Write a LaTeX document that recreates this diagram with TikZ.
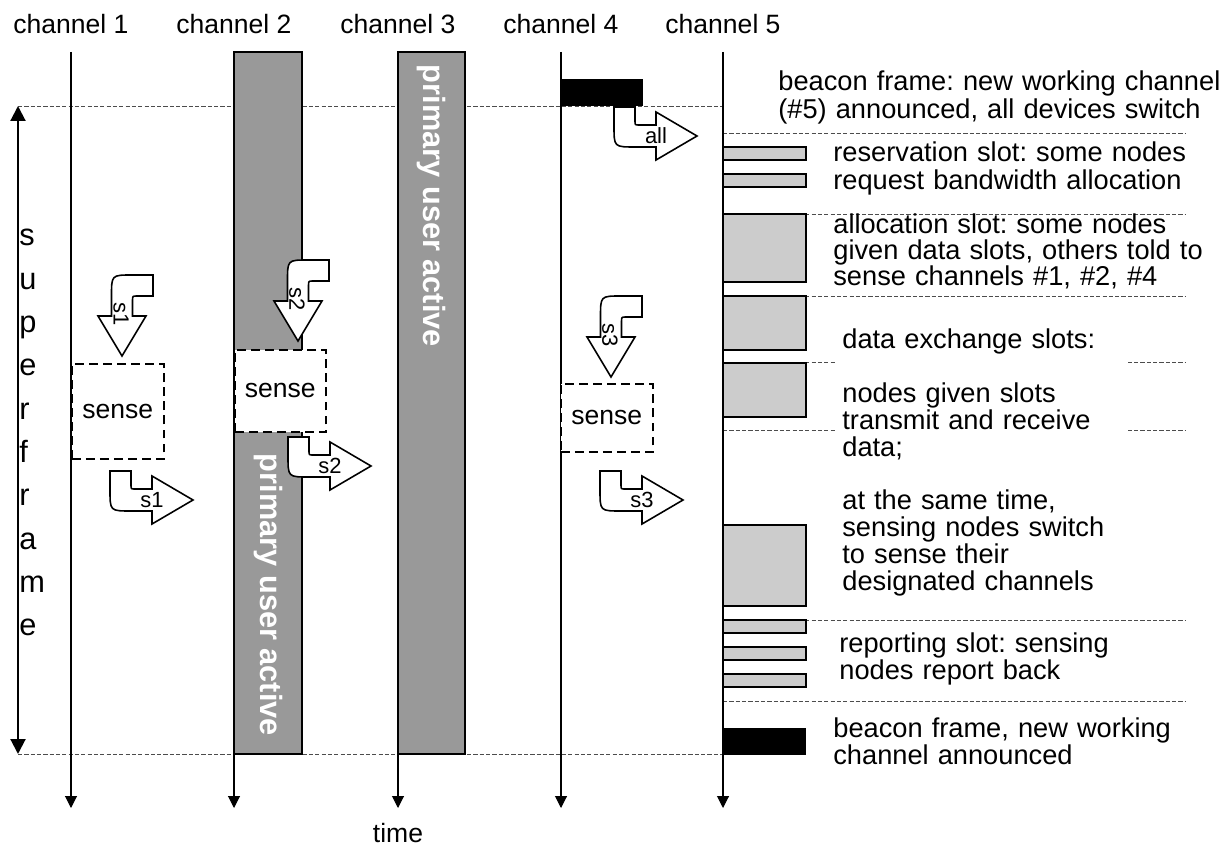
\documentclass[tikz,border=0pt]{standalone}
\usepackage{fontspec}
\setmainfont{Liberation Sans}
\usetikzlibrary{arrows.meta,positioning}

\begin{document}
\begin{tikzpicture}[x=0.02cm, y=-0.02cm,
       >={Triangle[width=6.8pt,length=6.8pt]},
       every node/.style={font=\fontsize{15.1}{17}\selectfont, inner sep=0pt},
       sepline/.style={black!70, line width=0.5pt, dash pattern=on 2.4pt off 1.2pt},
       chline/.style={->, line width=0.6pt},
       sfarrow/.style={line width=1.2pt, arrows={Triangle[width=8.5pt,length=8.5pt]-Triangle[width=8.5pt,length=8.5pt]}},
       sfletter/.style={anchor=base west, font=\fontsize{17.5}{20}\selectfont},
       puband/.style={draw, line width=1pt, fill=black!40},
       pulabel/.style={rotate=-90, text=white, font=\fontsize{17.5}{20}\bfseries\selectfont},
       slot/.style={draw, line width=1.1pt, fill=black!20},
       beacon/.style={fill=black},
       sensebox/.style={draw, fill=white, line width=0.9pt, dash pattern=on 5pt off 3pt,
                        anchor=north west, minimum width=1.84cm},
       blockarrow/.style={draw, fill=white, line width=0.9pt, line join=miter},
       turntag/.style={font=\fontsize{12.5}{14}\selectfont},
       slotnote/.style={align=left, anchor=base west, text width=9cm,
                        font=\fontsize{15.5}{#1}\selectfont\frenchspacing},
       downbend/.pic={
           \path[blockarrow] (31,-81) -- (31,-60) -- (15,-60) .. controls (10.5,-60) .. (10.5,-55)
               -- (10.5,-40) -- (24,-40) -- (0,0) -- (-24,-40) -- (-10.5,-40) -- (-10.5,-60)
               .. controls (-10.5,-81) .. (10,-81) -- cycle;
           \node[turntag, rotate=-90] (-tag) at (-1,-42) {#1};},
       rightbend/.pic={
           \path[blockarrow] (-83,-29) -- (-62,-29) -- (-62,-15) .. controls (-62,-11) .. (-58,-11)
               -- (-41,-11) -- (-41,-24) -- (0,0) -- (-41,24) -- (-41,11) -- (-62,11)
               .. controls (-83,11) .. (-83,-10) -- cycle;
           \node[turntag] (-tag) at (-41,0) {#1};}]

    \useasboundingbox (0,0) rectangle (1223,847);

    %% separators of the superframe
    \coordinate (sftop) at (18,106);
    \coordinate (sfbot) at (18,754);
    \draw[sepline] (sftop) -- (723,106);
    \draw[sepline] (sfbot) -- (723,754);
    \foreach \y in {133,214,296,362,430,620,701}
        \draw[sepline] (723,\y) -- (1185,\y);

    %% channels and time axes
    \foreach [count=\i] \x in {71,234,398,561,723}
       {\coordinate (top\i) at (\x,52);
        \coordinate (bot\i) at (\x,808);
        \draw[chline] (top\i) -- (bot\i);
        \node[above=0.36cm of top\i] (chlabel\i) {channel \i};}
    \node[below=0.3cm of bot3] (time) {time};

    %% superframe
    \draw[sfarrow] (sftop) -- (sfbot);
    \foreach [count=\i] \c in {s,u,p,e,r,f,r,a,m,e}
        \node[sfletter] (sf\i) at (19,{246+43.3*(\i-1)}) {\c};

    %% primary users on channels 2 and 3
    \draw[puband] (234,52) rectangle (302,754);
    \draw[puband] (398,52) rectangle (465,754);
    \node[pulabel] (pu3) at (431.5,206) {primary user active};
    \node[pulabel] (pu2) at (268,595) {primary user active};

    %% slots on channel 5
    \fill[beacon] (561,79) rectangle (643,106);
    \foreach \a/\b in {147/160,174/187,214/282,296/350,363/417,525/606,620/633,647/660,674/687}
        \draw[slot] (723,\a) rectangle (806,\b);
    \fill[beacon] (723,728) rectangle (806,755);

    %% sensing
    \node[sensebox, minimum height=1.9cm] (sense1) at (71,363) {sense};
    \node[sensebox, minimum height=1.64cm, minimum width=1.82cm] (sense2) at (234,349) {sense};
    \node[sensebox, minimum height=1.36cm] (sense4) at (560,383) {sense};

    %% switching
    \pic (allsw) at (697,136) {rightbend=all};
    \pic (s1in) at (122,356) {downbend=s1};
    \pic (s1out) at (193,500) {rightbend=s1};
    \pic (s2in) at (298,341) {downbend=s2};
    \pic (s2out) at (371,466) {rightbend=s2};
    \pic (s3in) at (611,377) {downbend=s3};
    \pic (s3out) at (683,500) {rightbend=s3};

    %% explanations
    \node[slotnote=13pt] (beacontxt) at (778,91)
        {beacon frame: new working channel\\(\#5) announced, all devices switch};
    \node[slotnote=15.4pt] (restxt) at (833,162)
        {reservation slot: some nodes\\request bandwidth allocation};
    \node[slotnote=14.7pt] (alloctxt) at (833,234)
        {allocation slot: some nodes\\given data slots, others told to\\sense channels \#1, \#2, \#4};
    \node[slotnote=15.25pt, fill=white, inner xsep=0.14cm, text width=5.58cm] (datatxt) at (835,349)
        {data exchange slots:\\[15.25pt]nodes given slots\\transmit and receive\\data;\\[15.25pt]
         at the same time,\\sensing nodes switch\\to sense their\\designated channels};
    \node[slotnote=15.4pt] (reptxt) at (839,652)
        {reporting slot: sensing\\nodes report back};
    \node[slotnote=14.2pt] (nexttxt) at (833,737)
        {beacon frame, new working\\channel announced};
\end{tikzpicture}
\end{document}
